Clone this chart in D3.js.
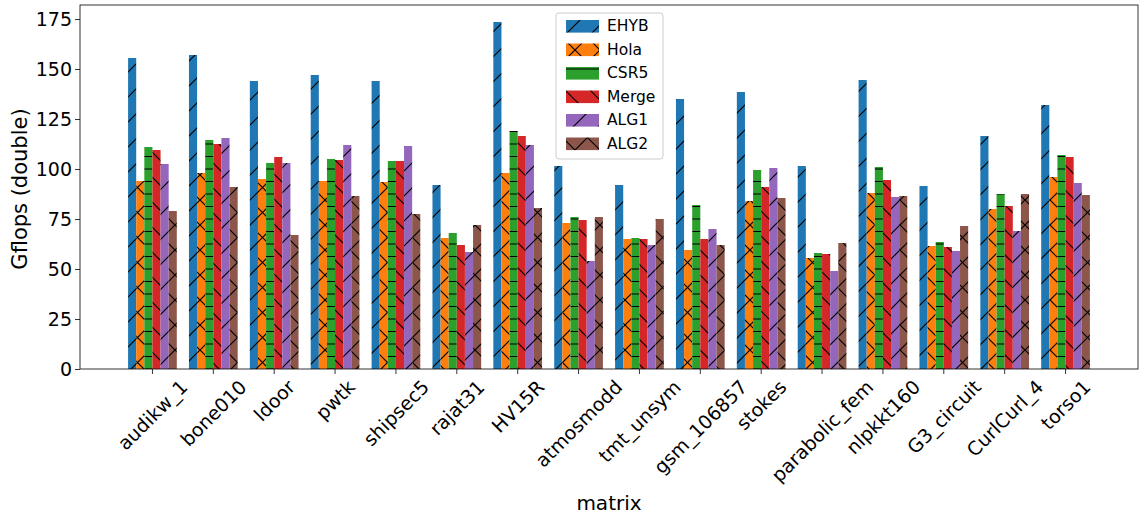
<!DOCTYPE html>
<html><head><meta charset="utf-8">
<script src="https://cdn.jsdelivr.net/npm/d3@7"></script>
<style>body{margin:0;background:#fff}svg{display:block;font-family:"DejaVu Sans",sans-serif}</style>
</head><body><svg id="c" width="1139" height="517"></svg>
<script>
const categories = ["audikw_1","bone010","ldoor","pwtk","shipsec5","rajat31","HV15R","atmosmodd","tmt_unsym","gsm_106857","stokes","parabolic_fem","nlpkkt160","G3_circuit","CurlCurl_4","torso1"];
const seriesNames = ["EHYB","Hola","CSR5","Merge","ALG1","ALG2"];
const EHYB  = [155.5,157,144,147,144,92,173.5,101.5,92,135,138.5,101.5,144.5,91.5,116.5,132];
const Hola  = [94,98,95,94,93.5,65.5,98,73,65,59.5,84,55.5,88,61.5,80,96];
const CSR5  = [111,114.5,103,105,104,68,119,76,65.5,82,99.5,58,101,63.5,87.5,107];
const Merge = [109.5,112.5,106,104.5,104,62,116.5,74.5,65,65,91,57.5,94.5,61,81.5,106];
const ALG1  = [102.5,115.5,103,112,111.5,58.5,112,54,62,70,100.5,49,86,59,69,93];
const ALG2  = [79,91,67,86.5,77.5,72,80.5,76,75,62,85.5,63,86.5,71.5,87.5,87];
const yTicks = [0,25,50,75,100,125,150,175];

const seriesValues = [EHYB,Hola,CSR5,Merge,ALG1,ALG2];
const colors = ["#1f77b4","#ff7f0e","#2ca02c","#d62728","#9467bd","#8c564b"];
const hatches = ["fwd","cross","horiz","back","fwd","cross"];

const svg = d3.select("#c");
const L=80,R=1138,T=5,B=369;
const x = d3.scaleLinear().domain([-1.19,16.19]).range([L,R]);
const y = d3.scaleLinear().domain([0,182]).range([B,T]);

// hatch patterns
const defs = svg.append("defs");
const S=25;
colors.forEach((c,i)=>{
  const p = defs.append("pattern").attr("id","h"+i).attr("patternUnits","userSpaceOnUse")
    .attr("width",S).attr("height",S);
  p.append("rect").attr("width",S).attr("height",S).attr("fill",c);
  const g = p.append("g").attr("stroke","#000").attr("stroke-width",1.2).attr("fill","none");
  const h = hatches[i];
  if(h==="fwd"||h==="cross"){
    g.append("path").attr("d",`M0,${S}L${S},0M-2,2L2,-2M${S-2},${S+2}L${S+2},${S-2}`);
  }
  if(h==="back"||h==="cross"){
    g.append("path").attr("d",`M0,0L${S},${S}M-2,${S-2}L2,${S+2}M${S-2},-2L${S+2},2`);
  }
  if(h==="horiz"){
    g.append("path").attr("d",`M0,6.5H${S}M0,19H${S}`);
  }
});

const w = 0.8/6;
seriesValues.forEach((vals,si)=>{
  svg.append("g").selectAll("rect").data(vals).join("rect")
    .attr("x",(d,i)=>x(i+(si-2.5)*w - w/2))
    .attr("width",x(w)-x(0))
    .attr("y",d=>y(d))
    .attr("height",d=>y(0)-y(d))
    .attr("fill",`url(#h${si})`);
});

// axes frame
svg.append("rect").attr("x",L).attr("y",T).attr("width",R-L).attr("height",B-T)
  .attr("fill","none").attr("stroke","#000").attr("stroke-width",0.8);

// y axis
const ya = svg.append("g").attr("transform",`translate(${L},0)`)
  .call(d3.axisLeft(y).tickValues(yTicks).tickSize(5).tickPadding(3));
ya.select(".domain").remove();
ya.selectAll("line").attr("stroke","#000").attr("stroke-width",0.8);
ya.selectAll("text").attr("font-size",19).attr("fill","#000").attr("font-family","DejaVu Sans");

// x axis ticks
const xa = svg.append("g");
categories.forEach((c,i)=>{
  const tx = x(i);
  xa.append("line").attr("x1",tx).attr("x2",tx).attr("y1",B).attr("y2",B+5)
    .attr("stroke","#000").attr("stroke-width",0.8);
  const t = xa.append("text").text(c).attr("font-size",19).attr("fill","#000")
    .attr("text-anchor","middle").attr("dominant-baseline","central");
  const tw = t.node().getComputedTextLength();
  const h = 19*0.8;
  const half = (tw+h)/(2*Math.SQRT2);
  const cy = B+9+half;
  t.attr("transform",`translate(${tx},${cy}) rotate(-45)`);
});

// axis labels
svg.append("text").text("matrix").attr("x",(L+R)/2).attr("y",510)
  .attr("text-anchor","middle").attr("font-size",20).attr("fill","#000");
svg.append("text").text("Gflops (double)").attr("transform",`translate(27,${189}) rotate(-90)`)
  .attr("text-anchor","middle").attr("font-size",21).attr("fill","#000");

// legend
const lg = svg.append("g");
lg.append("rect").attr("x",556).attr("y",13).attr("width",107).attr("height",146)
  .attr("rx",3).attr("fill","#fff").attr("fill-opacity",0.8).attr("stroke","#ccc").attr("stroke-width",1);
seriesNames.forEach((n,i)=>{
  const cy = 26.3 + i*23.5;
  lg.append("rect").attr("x",566).attr("y",cy-6.3).attr("width",33).attr("height",12.6)
    .attr("fill",`url(#h${i})`);
  lg.append("text").text(n).attr("x",607).attr("y",cy).attr("dominant-baseline","central")
    .attr("font-size",15.5).attr("fill","#000");
});
</script></body></html>
